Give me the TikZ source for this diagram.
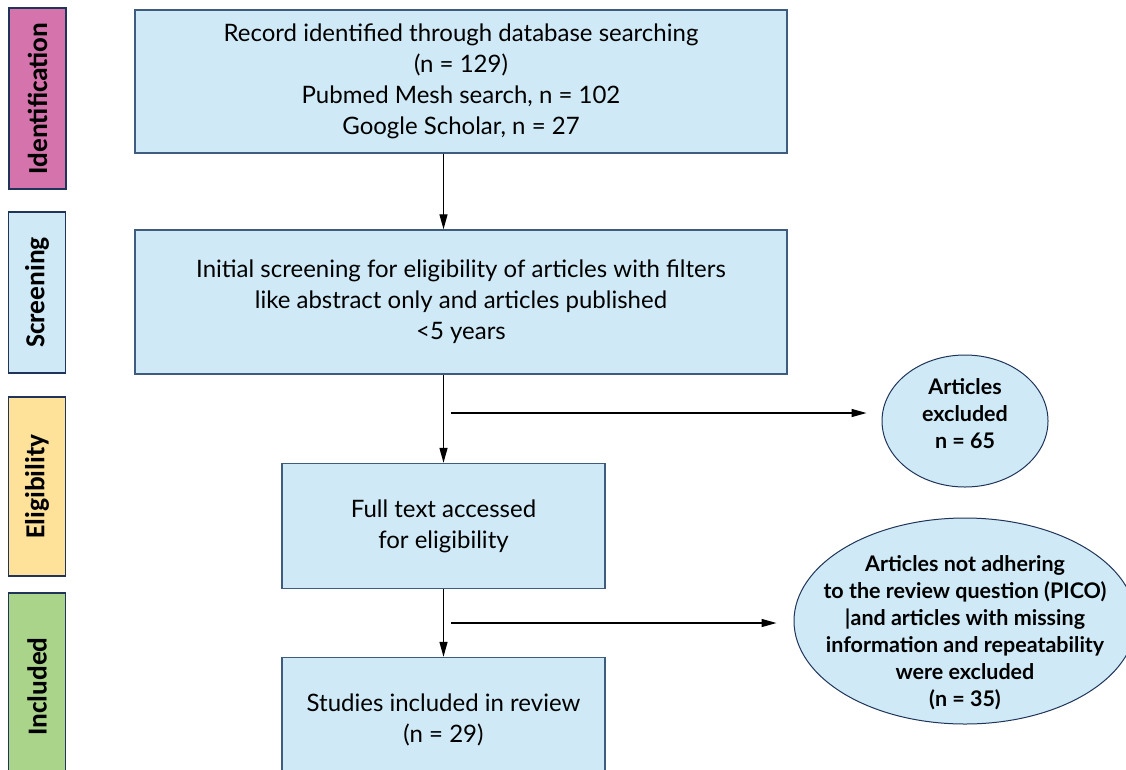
\documentclass[tikz,border=0pt]{standalone}
\usepackage{fontspec}
\setmainfont{Lato}
\newfontfamily\sidefont{Carlito}
\usetikzlibrary{shapes.geometric,arrows.meta}

\definecolor{boxfill}{HTML}{CFEAF6}
\definecolor{boxline}{HTML}{3F5B7E}
\definecolor{navy}{HTML}{1F3458}
\definecolor{idfill}{HTML}{D473AC}
\definecolor{elfill}{HTML}{FEE29A}
\definecolor{infill}{HTML}{A9D48A}

\tikzset{
  stagebox/.style={draw=navy, line width=1.4pt, rotate=90, minimum height=57pt,
    inner sep=0pt, font=\sidefont\bfseries\fontsize{27.5}{30}\selectfont},
  flowbox/.style={draw=boxline, fill=boxfill, line width=1.4pt, inner sep=0pt,
    align=center, font=\fontsize{24}{31}\selectfont},
  outcome/.style={draw=navy, fill=boxfill, ellipse, line width=1pt, inner sep=0pt},
  outtext/.style={align=center, font=\bfseries\fontsize{21.5}{27}\selectfont},
  arr/.style={line width=1.3pt, -{Triangle[length=15pt,width=8pt]}}
}

\begin{document}
\begin{tikzpicture}[x=1pt,y=-1pt]
\useasboundingbox (0,0) rectangle (1126,769);
\clip (0,0) rectangle (1126,769);

% stage labels on the left
\node[stagebox, fill=idfill, minimum width=181pt] (sid) at (37.5,98.5) {Identification};
\node[stagebox, fill=boxfill, minimum width=161pt] (ssc) at (37,292.5) {Screening};
\node[stagebox, fill=elfill, minimum width=179pt] (sel) at (37,486.5) {Eligibility};
\node[stagebox, fill=infill, minimum width=187pt] (sin) at (37,686.5) {Included};

% main flow boxes
\node[flowbox, minimum width=652pt, minimum height=143pt] (rec) at (461,81.5)
  {Record identified through database searching\\(n = 129)\\Pubmed Mesh search, n = 102\\Google Scholar, n = 27};
\node[flowbox, minimum width=652pt, minimum height=144pt] (scr) at (461,302)
  {Initial screening for eligibility of articles with filters\\like abstract only and articles published\\<5 years};
\node[flowbox, minimum width=323pt, minimum height=125pt] (full) at (443.5,526)
  {Full text accessed\\for eligibility};
\node[flowbox, minimum width=323pt, minimum height=125pt] (inc) at (443.5,720)
  {Studies included in review\\(n = 29)};

% exclusion ellipses
\node[outcome, minimum width=166pt, minimum height=132pt] (exa) at (965,421) {};
\node[outtext] (exatext) at (965,414) {Articles\\excluded\\n = 65};
\node[outcome, minimum width=342pt, minimum height=206pt] (exb) at (965,621) {};
\node[outtext] (exbtext) at (965,633)
  {Articles not adhering\\to the review question (PICO)\\|and articles with missing\\information and repeatability\\were excluded\\(n = 35)};

% connectors
\draw[arr] (rec.south -| full.north) -- (scr.north -| full.north);
\draw[arr] (scr.south -| full.north) -- (full.north);
\draw[arr] (full.south) -- (inc.north);

\coordinate (brA) at (451,413);
\coordinate (brB) at (451,623);
\draw[arr, shorten >=15pt] (brA) -- (brA -| exa.west);
\draw[arr, shorten >=17pt] (brB) -- (brB -| exb.west);
\end{tikzpicture}
\end{document}
